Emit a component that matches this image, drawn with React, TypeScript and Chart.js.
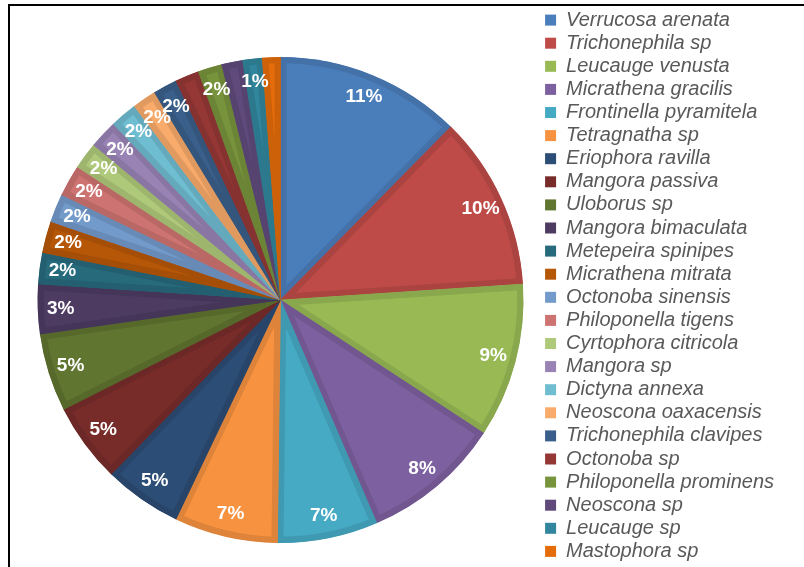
import React, { useEffect, useRef } from 'react';
import { Chart, registerables } from 'chart.js';

Chart.register(...registerables);

const species = [
  'Verrucosa arenata',
  'Trichonephila sp',
  'Leucauge venusta',
  'Micrathena gracilis',
  'Frontinella pyramitela',
  'Tetragnatha sp',
  'Eriophora ravilla',
  'Mangora passiva',
  'Uloborus sp',
  'Mangora bimaculata',
  'Metepeira spinipes',
  'Micrathena mitrata',
  'Octonoba sinensis',
  'Philoponella tigens',
  'Cyrtophora citricola',
  'Mangora sp',
  'Dictyna annexa',
  'Neoscona oaxacensis',
  'Trichonephila clavipes',
  'Octonoba sp',
  'Philoponella prominens',
  'Neoscona sp',
  'Leucauge sp',
  'Mastophora sp',
];

const shares = [
  12.4, 11.6, 10.3, 9.3, 6.7, 6.9, 5.2, 5.3, 5.2, 3.3, 2.1, 2.1,
  1.9, 2.1, 1.8, 1.9, 1.8, 1.6, 1.6, 1.6, 1.6, 1.4, 1.3, 1.2,
];

const percentLabels = [
  '11%', '10%', '9%', '8%', '7%', '7%', '5%', '5%', '5%', '3%', '2%', '2%',
  '2%', '2%', '2%', '2%', '2%', '2%', '2%', '', '2%', '', '1%', '',
];

const fillColors = [
  '#4A7EBB', '#BE4B48', '#98B954', '#7D60A0', '#46AAC5', '#F69240',
  '#2C4D75', '#772C2A', '#5F7530', '#4D3B62', '#276A7C', '#B65708',
  '#729ACA', '#CD7371', '#AFC97A', '#9983B5', '#6FBDD1', '#F9AB6B',
  '#3A5F8B', '#953735', '#77933C', '#604A7B', '#31859C', '#E46C0A',
];

function darken(hex: string, f: number): string {
  const n = parseInt(hex.slice(1), 16);
  const r = Math.round(((n >> 16) & 255) * f);
  const g = Math.round(((n >> 8) & 255) * f);
  const b = Math.round((n & 255) * f);
  return `rgb(${r},${g},${b})`;
}

const edgeColors = fillColors.map((c) => darken(c, 0.9));

const FONT = '"Liberation Sans", Arial, sans-serif';

const sliceLabelPlugin = {
  id: 'sliceLabels',
  afterDatasetsDraw(chart: any) {
    const meta = chart.getDatasetMeta(0);
    const ctx = chart.ctx;
    ctx.save();
    ctx.font = `bold 19px ${FONT}`;
    ctx.fillStyle = '#FFFFFF';
    ctx.textAlign = 'center';
    ctx.textBaseline = 'middle';
    meta.data.forEach((arc: any, i: number) => {
      const text = percentLabels[i];
      if (!text) return;
      const p = arc.getProps(['x', 'y', 'startAngle', 'endAngle', 'outerRadius'], true);
      const mid = (p.startAngle + p.endAngle) / 2;
      const r = p.outerRadius - 23;
      ctx.fillText(text, p.x + Math.cos(mid) * r, p.y + Math.sin(mid) * r);
    });
    ctx.restore();
  },
};

export default function App() {
  const canvasRef = useRef<HTMLCanvasElement | null>(null);

  useEffect(() => {
    const canvas = canvasRef.current;
    if (!canvas) return;
    const chart = new Chart(canvas, {
      type: 'pie',
      data: {
        labels: species,
        datasets: [
          {
            data: shares,
            backgroundColor: fillColors,
            borderColor: edgeColors,
            borderWidth: 6,
            borderAlign: 'inner',
            hoverBorderWidth: 6,
            hoverOffset: 0,
            radius: 243,
          } as any,
        ],
      },
      options: {
        responsive: false,
        animation: false,
        events: [],
        layout: { padding: { left: 19, right: 20, top: 7, bottom: 0 } },
        plugins: {
          tooltip: { enabled: false },
          legend: {
            position: 'right',
            align: 'start',
            labels: {
              boxWidth: 11,
              boxHeight: 11,
              padding: 3.1,
              color: '#595959',
              font: { family: FONT, size: 20, style: 'italic' },
              generateLabels: (ch: any) =>
                ch.data.labels.map((t: string, i: number) => ({
                  text: t,
                  fillStyle: fillColors[i],
                  strokeStyle: fillColors[i],
                  lineWidth: 0,
                  hidden: false,
                  index: i,
                  fontColor: '#595959',
                })),
            },
          },
        },
      },
      plugins: [sliceLabelPlugin],
    });
    return () => chart.destroy();
  }, []);

  return (
    <div
      style={{
        position: 'fixed',
        left: 0,
        top: 0,
        width: 804,
        height: 567,
        overflow: 'hidden',
        background: '#FFFFFF',
      }}
    >
      <div
        style={{
          position: 'absolute',
          left: 8,
          top: 4,
          width: 900,
          height: 700,
          border: '2px solid #000000',
          boxSizing: 'border-box',
        }}
      />
      <canvas
        ref={canvasRef}
        width={804}
        height={593}
        style={{ position: 'absolute', left: 0, top: 0, width: 804, height: 593 }}
      />
    </div>
  );
}
